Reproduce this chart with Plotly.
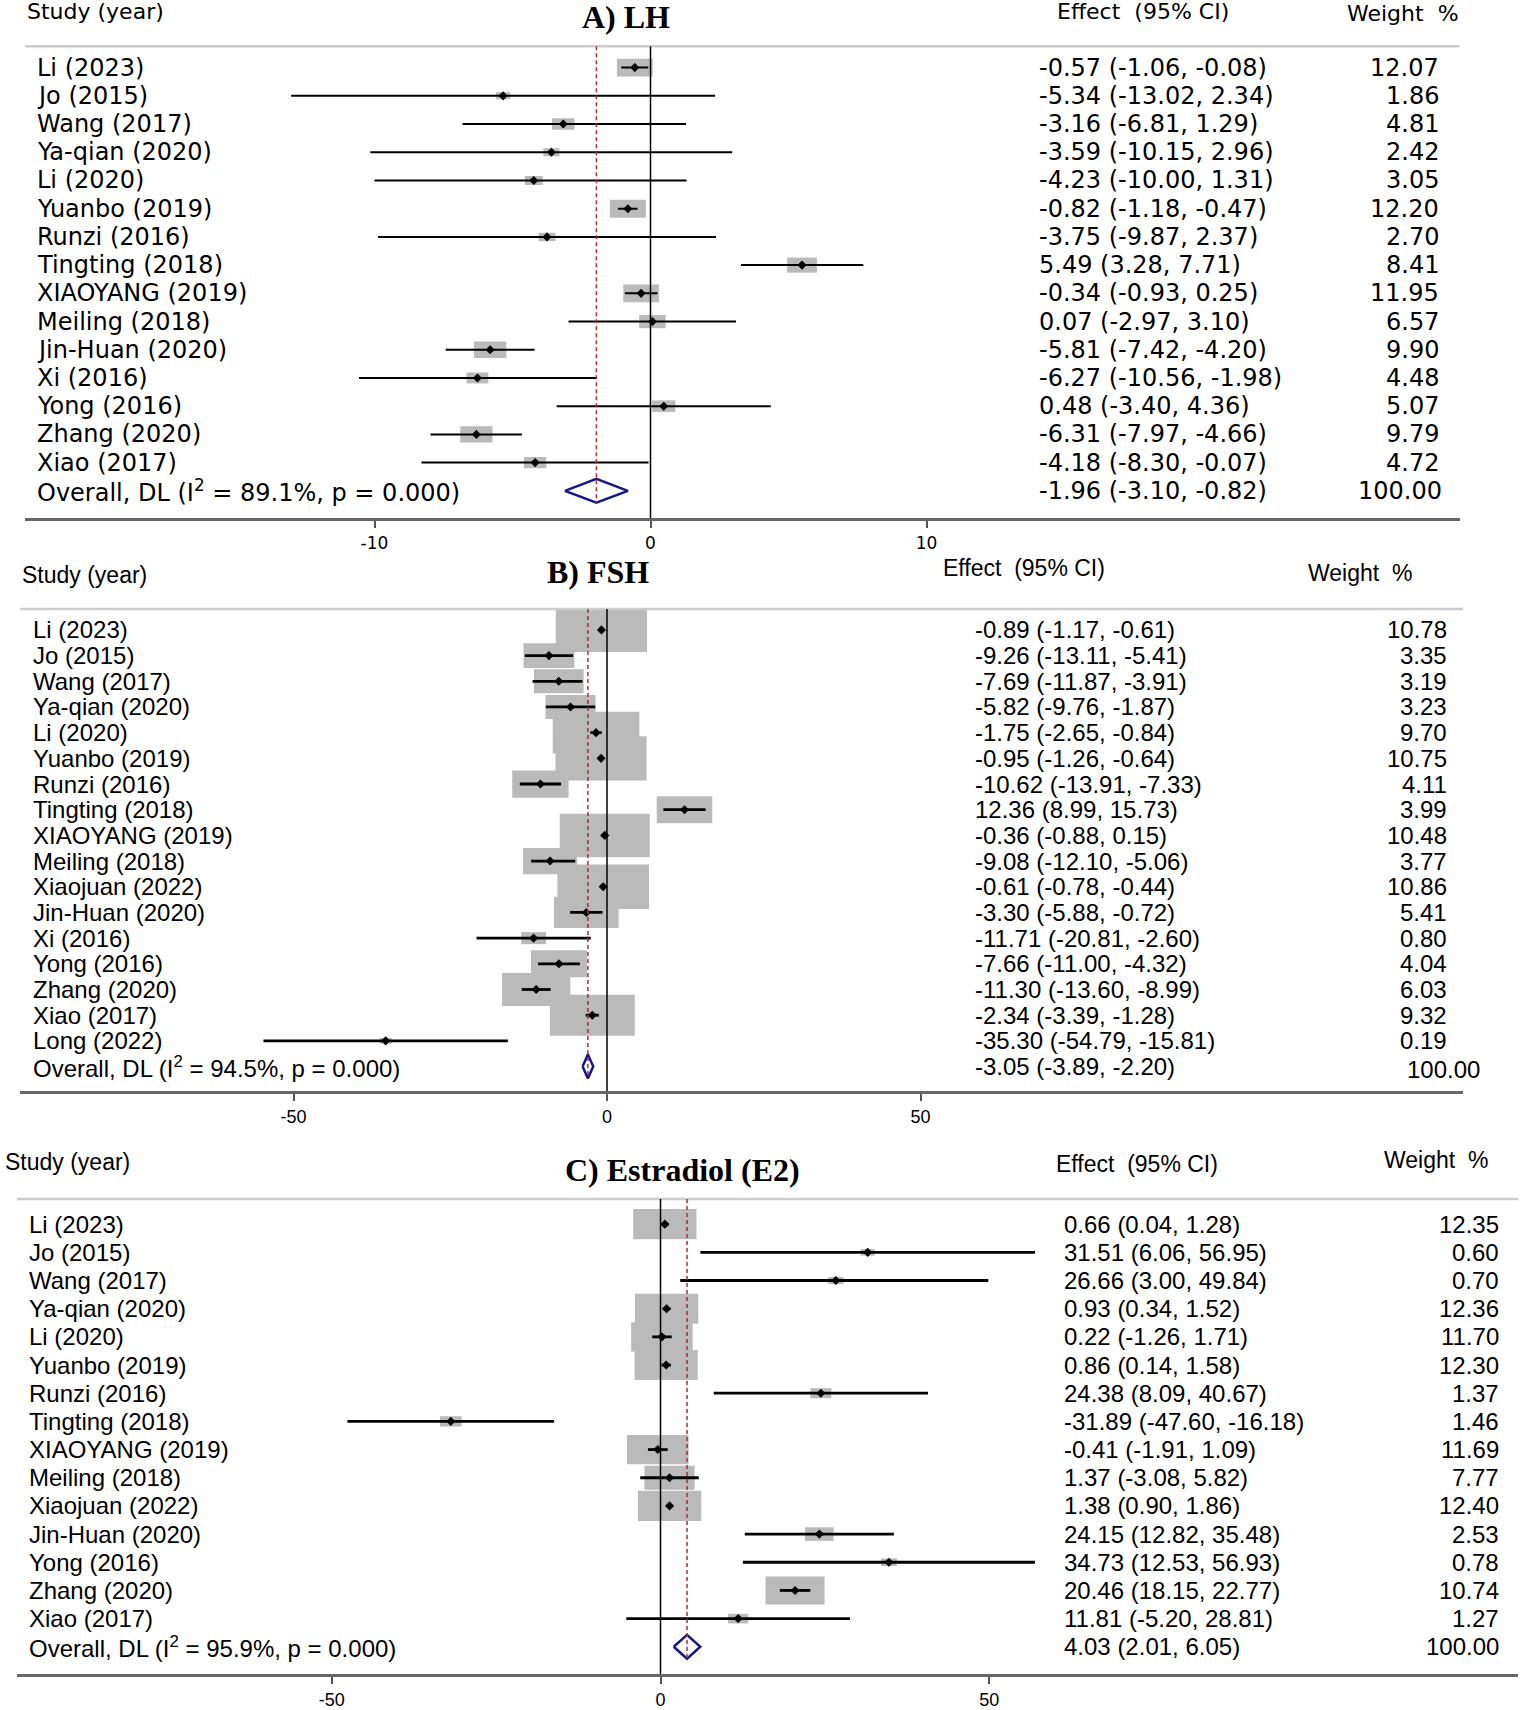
import plotly.graph_objects as go

W, H = 1535, 1710

# ---- A) LH ----
lh_study = ["Li (2023)", "Jo (2015)", "Wang (2017)", "Ya-qian (2020)", "Li (2020)",
            "Yuanbo (2019)", "Runzi (2016)", "Tingting (2018)", "XIAOYANG (2019)",
            "Meiling (2018)", "Jin-Huan (2020)", "Xi (2016)", "Yong (2016)",
            "Zhang (2020)", "Xiao (2017)"]
lh_est = [-0.57, -5.34, -3.16, -3.59, -4.23, -0.82, -3.75, 5.49, -0.34, 0.07, -5.81, -6.27, 0.48, -6.31, -4.18]
lh_lo = [-1.06, -13.02, -6.81, -10.15, -10.00, -1.18, -9.87, 3.28, -0.93, -2.97, -7.42, -10.56, -3.40, -7.97, -8.30]
lh_hi = [-0.08, 2.34, 1.29, 2.96, 1.31, -0.47, 2.37, 7.71, 0.25, 3.10, -4.20, -1.98, 4.36, -4.66, -0.07]
lh_wt = [12.07, 1.86, 4.81, 2.42, 3.05, 12.20, 2.70, 8.41, 11.95, 6.57, 9.90, 4.48, 5.07, 9.79, 4.72]
lh_overall = [-1.96, -3.10, -0.82]
lh_i2 = 89.1
lh_ticks = [-10, 0, 10]

# ---- B) FSH ----
fsh_study = ["Li (2023)", "Jo (2015)", "Wang (2017)", "Ya-qian (2020)", "Li (2020)",
             "Yuanbo (2019)", "Runzi (2016)", "Tingting (2018)", "XIAOYANG (2019)",
             "Meiling (2018)", "Xiaojuan (2022)", "Jin-Huan (2020)", "Xi (2016)",
             "Yong (2016)", "Zhang (2020)", "Xiao (2017)", "Long (2022)"]
fsh_est = [-0.89, -9.26, -7.69, -5.82, -1.75, -0.95, -10.62, 12.36, -0.36, -9.08, -0.61, -3.30, -11.71, -7.66, -11.30, -2.34, -35.30]
fsh_lo = [-1.17, -13.11, -11.87, -9.76, -2.65, -1.26, -13.91, 8.99, -0.88, -12.10, -0.78, -5.88, -20.81, -11.00, -13.60, -3.39, -54.79]
fsh_hi = [-0.61, -5.41, -3.91, -1.87, -0.84, -0.64, -7.33, 15.73, 0.15, -5.06, -0.44, -0.72, -2.60, -4.32, -8.99, -1.28, -15.81]
fsh_wt = [10.78, 3.35, 3.19, 3.23, 9.70, 10.75, 4.11, 3.99, 10.48, 3.77, 10.86, 5.41, 0.80, 4.04, 6.03, 9.32, 0.19]
fsh_overall = [-3.05, -3.89, -2.20]
fsh_i2 = 94.5
fsh_ticks = [-50, 0, 50]

# ---- C) Estradiol (E2) ----
e2_study = ["Li (2023)", "Jo (2015)", "Wang (2017)", "Ya-qian (2020)", "Li (2020)",
            "Yuanbo (2019)", "Runzi (2016)", "Tingting (2018)", "XIAOYANG (2019)",
            "Meiling (2018)", "Xiaojuan (2022)", "Jin-Huan (2020)", "Yong (2016)",
            "Zhang (2020)", "Xiao (2017)"]
e2_est = [0.66, 31.51, 26.66, 0.93, 0.22, 0.86, 24.38, -31.89, -0.41, 1.37, 1.38, 24.15, 34.73, 20.46, 11.81]
e2_lo = [0.04, 6.06, 3.00, 0.34, -1.26, 0.14, 8.09, -47.60, -1.91, -3.08, 0.90, 12.82, 12.53, 18.15, -5.20]
e2_hi = [1.28, 56.95, 49.84, 1.52, 1.71, 1.58, 40.67, -16.18, 1.09, 5.82, 1.86, 35.48, 56.93, 22.77, 28.81]
e2_wt = [12.35, 0.60, 0.70, 12.36, 11.70, 12.30, 1.37, 1.46, 11.69, 7.77, 12.40, 2.53, 0.78, 10.74, 1.27]
e2_overall = [4.03, 2.01, 6.05]
e2_i2 = 95.9
e2_ticks = [-50, 0, 50]

# pixel layout of each panel
panels = [
    dict(title="A) LH", study=lh_study, est=lh_est, lo=lh_lo, hi=lh_hi, wt=lh_wt,
         ov=lh_overall, i2=lh_i2, ticks=lh_ticks,
         font="DejaVu Sans", fs=24, hfs=22, tfs=17,
         dom=(25, 1459.5), zero=650.5, ppu=27.6,
         row0=67.9, sp=28.33, top=46.4, bottom=520.4,
         lab_x=35, eff_x=1037, wt_x=1441, ovwt_x=1443.6, ovwt_dy=0,
         h_study=(25, 12), h_title=(626, 17), h_eff=(1055, 12), h_wt=(1345, 14),
         kw=10.3, kh=5.2, ci=2),
    dict(title="B) FSH", study=fsh_study, est=fsh_est, lo=fsh_lo, hi=fsh_hi, wt=fsh_wt,
         ov=fsh_overall, i2=fsh_i2, ticks=fsh_ticks,
         font="Liberation Sans, Arial", fs=24, hfs=23, tfs=18,
         dom=(20, 1463), zero=607, ppu=6.27,
         row0=632.5, sp=25.79, top=611.4, bottom=1095.7,
         lab_x=31.4, eff_x=973, wt_x=1449, ovwt_x=1482, ovwt_dy=3,
         h_study=(19.6, 577), h_title=(598, 574.4), h_eff=(941, 570.7), h_wt=(1306, 575),
         kw=27.8, kh=13.5, ci=2.8),
    dict(title="C) Estradiol (E2)", study=e2_study, est=e2_est, lo=e2_lo, hi=e2_hi, wt=e2_wt,
         ov=e2_overall, i2=e2_i2, ticks=e2_ticks,
         font="Liberation Sans, Arial", fs=24, hfs=23, tfs=18,
         dom=(17, 1518), zero=660.5, ppu=6.577,
         row0=1229.2, sp=28.29, top=1204, bottom=1681,
         lab_x=27.4, eff_x=1062, wt_x=1500.7, ovwt_x=1500.7, ovwt_dy=0,
         h_study=(3, 1167), h_title=(682, 1174.7), h_eff=(1054, 1169), h_wt=(1382, 1165),
         kw=18, kh=8.6, ci=2.8),
]

fig = go.Figure()
annotations = []
shapes = []
layout = {}


def px(x):
    return x / W


def py(y):
    return 1 - y / H


for k, p in enumerate(panels):
    sfx = "" if k == 0 else str(k + 1)
    xa, ya = "x" + sfx, "y" + sfx
    n = len(p["study"])
    rows = list(range(n))
    ov_row = n
    i_top = (p["top"] - p["row0"]) / p["sp"]
    i_bot = (p["bottom"] - p["row0"]) / p["sp"]
    x_rng = [(p["dom"][0] - p["zero"]) / p["ppu"], (p["dom"][1] - p["zero"]) / p["ppu"]]

    # weight boxes
    hw = [p["kw"] * w ** 0.5 / 2 / p["ppu"] for w in p["wt"]]
    hh = [p["kh"] * w ** 0.5 / p["sp"] for w in p["wt"]]
    fig.add_trace(go.Bar(
        orientation="h", y=rows, x=[2 * h for h in hw],
        base=[e - h for e, h in zip(p["est"], hw)], width=hh,
        marker=dict(color="#bababa", line=dict(width=0)),
        xaxis=xa, yaxis=ya, showlegend=False, hoverinfo="skip"))

    # CI lines + point estimates
    fig.add_trace(go.Scatter(
        x=p["est"], y=rows, mode="markers",
        marker=dict(symbol="diamond", size=7, color="black"),
        error_x=dict(type="data", symmetric=False,
                     array=[h - e for h, e in zip(p["hi"], p["est"])],
                     arrayminus=[e - l for e, l in zip(p["est"], p["lo"])],
                     width=0, thickness=p["ci"], color="black"),
        xaxis=xa, yaxis=ya, showlegend=False))

    # overall diamond
    e, l, h = p["ov"]
    dh = 12 / p["sp"]
    fig.add_trace(go.Scatter(
        x=[l, e, h, e, l], y=[ov_row, ov_row - dh, ov_row, ov_row + dh, ov_row],
        mode="lines", line=dict(color="#16168a", width=2.5),
        xaxis=xa, yaxis=ya, showlegend=False))

    layout["xaxis" + sfx] = dict(
        domain=[px(p["dom"][0]), px(p["dom"][1])], range=x_rng, anchor=ya,
        tickvals=p["ticks"], ticktext=[str(t) for t in p["ticks"]],
        ticks="outside", ticklen=7, tickwidth=2, tickcolor="#555",
        showline=True, linecolor="#666", linewidth=3, showgrid=False, zeroline=False,
        tickfont=dict(family=p["font"], size=p["tfs"], color="black"), fixedrange=True)
    layout["yaxis" + sfx] = dict(
        domain=[py(p["bottom"]), py(p["top"])], range=[i_bot, i_top], anchor=xa,
        visible=False, fixedrange=True)

    # top rule, null line, overall dashed line
    shapes.append(dict(type="line", xref="paper", yref="paper",
                       x0=px(p["dom"][0]), x1=px(p["dom"][1]), y0=py(p["top"]), y1=py(p["top"]),
                       line=dict(color="#cccccc", width=2.5)))
    shapes.append(dict(type="line", xref=xa, yref=ya, x0=0, x1=0, y0=i_top, y1=i_bot,
                       line=dict(color="black", width=1.5)))
    shapes.append(dict(type="line", xref=xa, yref=ya, x0=e, x1=e, y0=i_top, y1=ov_row + dh,
                       line=dict(color="#a8302c", width=1.5, dash="4px,3px")))

    f = dict(family=p["font"], size=p["fs"], color="black")
    hf = dict(family=p["font"], size=p["hfs"], color="black")

    # headers
    annotations.append(dict(text="Study (year)", x=px(p["h_study"][0]), y=py(p["h_study"][1]),
                            xanchor="left", font=hf))
    annotations.append(dict(text="<b>" + p["title"] + "</b>", x=px(p["h_title"][0]), y=py(p["h_title"][1]),
                            xanchor="center",
                            font=dict(family="Liberation Serif, Times New Roman", size=32, color="black")))
    annotations.append(dict(text="Effect\u00a0 (95% CI)", x=px(p["h_eff"][0]), y=py(p["h_eff"][1]),
                            xanchor="left", font=hf))
    annotations.append(dict(text="Weight\u00a0 %", x=px(p["h_wt"][0]), y=py(p["h_wt"][1]),
                            xanchor="left", font=hf))

    # study rows
    for i in rows:
        annotations.append(dict(text=p["study"][i], x=px(p["lab_x"]), y=i, yref=ya,
                                xanchor="left", font=f))
        annotations.append(dict(text="%.2f (%.2f, %.2f)" % (p["est"][i], p["lo"][i], p["hi"][i]),
                                x=px(p["eff_x"]), y=i, yref=ya, xanchor="left", font=f))
        annotations.append(dict(text="%.2f" % p["wt"][i], x=px(p["wt_x"]), y=i, yref=ya,
                                xanchor="right", font=f))

    # overall row
    annotations.append(dict(text="Overall, DL (I<sup>2</sup> = %.1f%%, p = 0.000)" % p["i2"],
                            x=px(p["lab_x"]), y=ov_row, yref=ya, xanchor="left", font=f))
    annotations.append(dict(text="%.2f (%.2f, %.2f)" % (e, l, h),
                            x=px(p["eff_x"]), y=ov_row, yref=ya, xanchor="left", font=f))
    annotations.append(dict(text="100.00",
                            x=px(p["ovwt_x"]), y=ov_row, yref=ya, yshift=-p["ovwt_dy"],
                            xanchor="right", font=f))

for a in annotations:
    a.setdefault("xref", "paper")
    a.setdefault("yref", "paper")
    a["showarrow"] = False
    a["yanchor"] = "middle"

fig.update_layout(
    width=W, height=H,
    margin=dict(l=0, r=0, t=0, b=0),
    paper_bgcolor="white", plot_bgcolor="white",
    showlegend=False,
    annotations=annotations,
    shapes=shapes,
    **layout,
)

fig.write_html("out.html", config={"displayModeBar": False},
               post_script="document.body.style.margin='0';")
